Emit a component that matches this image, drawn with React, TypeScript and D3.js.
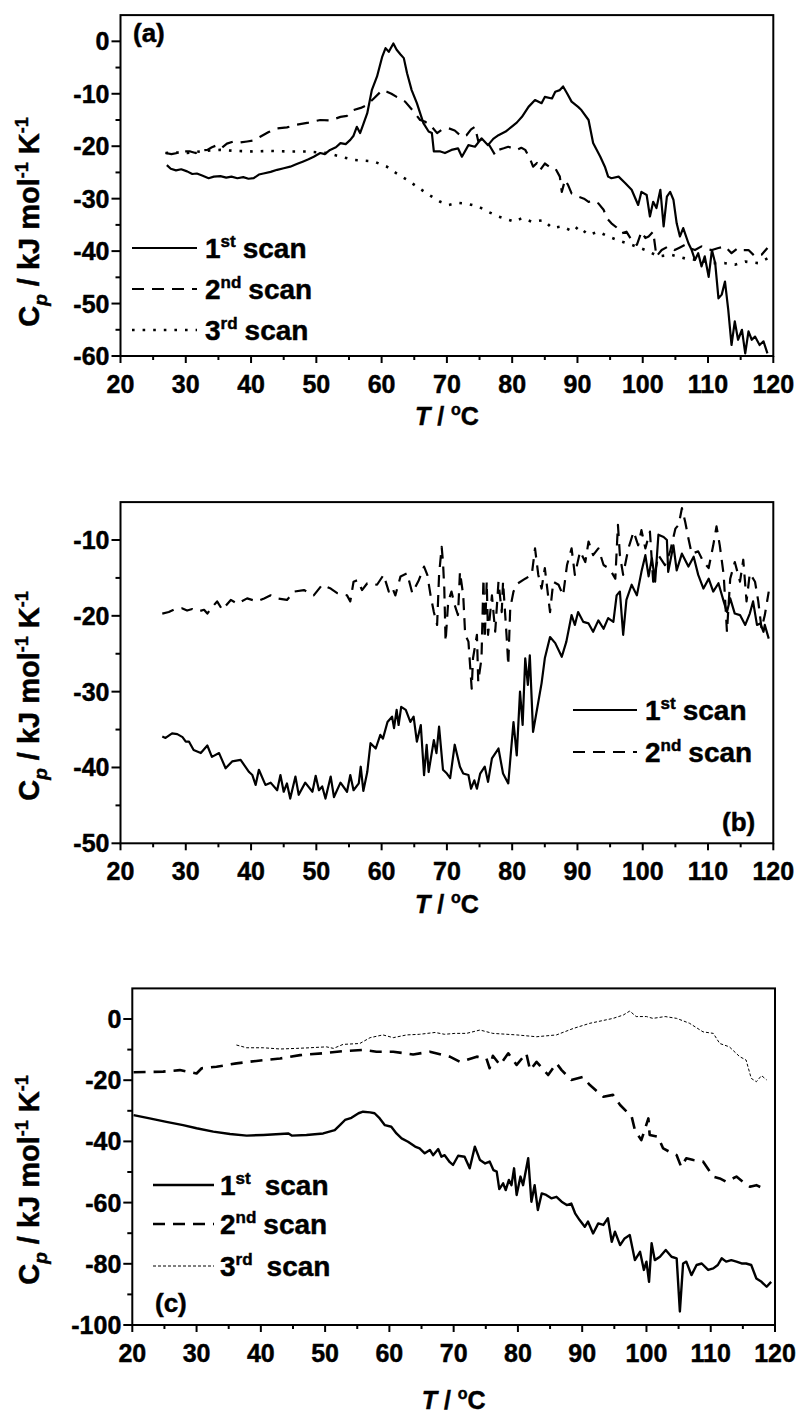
import React from 'react';
import * as d3 from 'd3';

type Pt = [number, number];

// ---------- data ----------
const xTickValues = [20, 30, 40, 50, 60, 70, 80, 90, 100, 110, 120];
const xMinorValues = [25, 35, 45, 55, 65, 75, 85, 95, 105, 115];

const aYTicks = [-60, -50, -40, -30, -20, -10, 0];
const aYMinor = [-55, -45, -35, -25, -15, -5];
const bYTicks = [-50, -40, -30, -20, -10];
const bYMinor = [-45, -35, -25, -15];
const cYTicks = [-100, -80, -60, -40, -20, 0];
const cYMinor = [-90, -70, -50, -30, -10];

const aScan1: Pt[] = [[27.1,-23.6],[27.7,-24.3],[28.5,-24.6],[29.3,-24.4],[30.2,-24.8],[31.0,-25.3],[31.7,-25.2],[32.5,-25.6],[33.5,-26.1],[34.3,-25.8],[35.3,-25.7],[36.2,-26.0],[37.0,-25.8],[37.9,-26.1],[38.8,-25.9],[39.6,-26.2],[40.4,-26.1],[41.2,-25.4],[41.9,-25.2],[43.0,-24.9],[44.0,-24.5],[45.0,-24.2],[46.0,-23.9],[47.0,-23.4],[48.0,-22.9],[48.8,-22.5],[49.6,-22.0],[50.6,-21.3],[51.3,-21.5],[52.1,-20.7],[53.0,-20.2],[53.7,-19.4],[54.5,-19.6],[55.2,-18.8],[55.7,-18.0],[56.2,-16.3],[56.7,-17.5],[57.2,-15.8],[57.8,-13.7],[58.5,-9.3],[59.3,-6.7],[60.1,-2.9],[60.6,-1.3],[61.1,-2.0],[61.8,-0.4],[62.3,-1.6],[62.9,-2.5],[63.4,-3.2],[63.9,-6.1],[64.6,-9.3],[65.4,-11.8],[66.4,-15.6],[67.2,-17.2],[67.7,-17.5],[68.0,-21.0],[69.0,-21.0],[69.7,-21.3],[70.7,-20.7],[71.7,-20.4],[72.3,-22.0],[73.3,-19.8],[74.3,-20.1],[75.3,-18.5],[76.3,-19.8],[77.1,-18.6],[77.9,-17.9],[79.0,-17.2],[79.9,-16.3],[80.7,-15.5],[81.5,-14.4],[82.5,-12.5],[83.5,-11.2],[84.5,-11.8],[85.0,-10.6],[86.1,-10.9],[86.6,-9.6],[87.3,-9.3],[87.8,-8.6],[88.4,-9.9],[89.1,-11.5],[90.1,-12.5],[90.6,-13.1],[91.7,-15.0],[92.4,-19.4],[93.5,-22.0],[94.2,-23.9],[94.7,-25.8],[95.2,-26.1],[96.3,-25.8],[97.3,-27.0],[98.3,-28.3],[99.3,-31.2],[99.8,-28.7],[100.6,-29.3],[101.1,-33.4],[101.6,-30.6],[102.1,-31.8],[102.7,-28.3],[103.2,-35.3],[103.7,-29.6],[104.2,-28.7],[104.7,-30.2],[105.2,-34.7],[105.7,-37.2],[106.2,-35.6],[107.0,-38.5],[107.5,-39.8],[108.0,-41.7],[108.5,-40.4],[109.0,-42.9],[109.5,-41.0],[110.1,-44.9],[110.6,-39.8],[111.1,-42.3],[111.6,-49.0],[112.1,-48.3],[112.6,-45.8],[113.1,-51.2],[113.6,-57.9],[114.1,-53.4],[114.6,-56.9],[115.2,-55.0],[115.7,-59.5],[116.2,-55.3],[116.7,-56.9],[117.2,-56.3],[117.9,-57.9],[118.5,-57.2],[119.1,-59.5]];

const aScan2: Pt[] = [[26.9,-21.3],[27.8,-21.5],[28.7,-21.3],[29.7,-21.0],[30.7,-21.0],[31.5,-21.3],[32.3,-20.8],[33.3,-20.7],[34.0,-20.2],[34.8,-19.8],[35.5,-20.3],[36.3,-19.5],[37.3,-19.1],[38.3,-19.3],[39.4,-19.1],[40.4,-18.9],[41.4,-18.2],[42.7,-17.3],[44.0,-16.6],[45.5,-16.4],[47.0,-15.9],[48.8,-15.5],[50.6,-15.0],[52.1,-15.1],[53.7,-14.4],[54.7,-14.2],[55.7,-13.1],[56.8,-12.7],[57.8,-12.1],[58.8,-10.9],[60.1,-9.3],[60.8,-9.6],[61.5,-10.0],[62.3,-10.6],[63.6,-11.5],[64.9,-13.4],[65.9,-15.0],[66.6,-15.3],[67.4,-15.9],[68.5,-17.5],[69.3,-16.8],[70.3,-16.6],[71.2,-17.0],[72.3,-18.2],[73.0,-17.9],[73.7,-16.8],[74.3,-16.3],[74.8,-19.0],[75.5,-18.6],[76.3,-19.4],[77.4,-21.7],[77.9,-20.7],[78.7,-20.4],[79.4,-20.1],[80.7,-20.7],[81.4,-20.3],[82.0,-20.7],[82.7,-22.3],[83.2,-23.9],[83.8,-23.2],[84.3,-24.5],[85.0,-23.3],[85.8,-24.0],[86.6,-24.2],[87.3,-25.8],[87.6,-28.7],[88.1,-26.4],[88.6,-27.5],[89.1,-29.0],[90.1,-29.6],[91.0,-30.0],[91.7,-30.6],[92.5,-30.4],[93.2,-30.9],[94.0,-32.1],[94.5,-33.7],[95.2,-34.7],[96.0,-35.5],[96.8,-36.6],[97.5,-36.3],[98.3,-37.9],[99.1,-38.8],[99.8,-36.3],[100.4,-37.5],[100.9,-37.2],[101.6,-36.3],[102.1,-41.0],[102.9,-39.8],[103.9,-39.1],[104.9,-39.8],[105.7,-39.3],[106.5,-38.8],[107.3,-39.5],[108.0,-39.8],[109.0,-39.1],[109.8,-39.6],[110.6,-39.8],[111.6,-39.4],[112.6,-39.1],[113.6,-40.4],[114.6,-39.4],[115.4,-39.8],[116.2,-39.8],[117.2,-41.0],[118.2,-40.7],[119.1,-39.4]];

const aScan3: Pt[] = [[26.9,-21.3],[28.5,-21.2],[30.2,-21.3],[32.8,-20.9],[35.3,-20.7],[37.8,-20.9],[40.4,-21.0],[43.0,-20.9],[45.5,-21.0],[48.6,-21.0],[51.6,-21.3],[53.7,-22.0],[55.7,-22.6],[58.8,-22.9],[60.8,-23.9],[62.3,-25.2],[63.9,-26.4],[65.4,-27.7],[66.9,-29.0],[69.0,-30.6],[70.3,-31.2],[71.7,-30.8],[73.2,-31.0],[74.8,-31.5],[76.3,-32.5],[77.9,-33.4],[80.4,-34.4],[81.5,-33.7],[83.0,-34.4],[84.8,-34.1],[86.1,-35.6],[87.6,-35.3],[89.4,-36.3],[90.1,-35.3],[91.7,-36.9],[93.2,-36.3],[94.7,-37.2],[96.8,-38.2],[98.3,-38.8],[100.4,-39.8],[102.4,-41.0],[104.4,-40.7],[106.5,-41.4],[108.5,-41.7],[110.6,-42.3],[112.6,-42.3],[114.1,-42.6],[115.7,-42.0],[117.7,-42.3],[119.1,-41.4]];

const bScan1: Pt[] = [[26.4,-35.9],[26.9,-36.1],[27.9,-35.5],[28.7,-35.6],[29.5,-36.0],[30.0,-36.6],[30.5,-36.6],[31.2,-37.7],[32.3,-38.1],[33.3,-37.1],[34.0,-38.6],[35.1,-38.1],[36.1,-40.1],[37.1,-39.2],[38.4,-39.0],[39.7,-40.6],[40.2,-41.0],[40.7,-42.3],[41.2,-40.3],[42.2,-42.3],[43.0,-42.0],[44.0,-43.0],[44.5,-41.0],[45.0,-43.2],[45.5,-42.1],[46.0,-44.1],[46.8,-41.2],[47.3,-43.6],[48.3,-42.0],[49.4,-43.2],[49.9,-41.1],[50.4,-43.0],[50.9,-42.5],[51.4,-44.1],[52.2,-41.2],[52.7,-43.9],[53.7,-42.0],[54.7,-43.2],[55.2,-41.0],[55.7,-43.0],[56.5,-42.1],[56.8,-39.9],[57.2,-43.1],[57.8,-40.6],[58.3,-36.8],[59.1,-37.5],[59.8,-35.7],[60.2,-36.2],[60.9,-34.0],[61.6,-33.3],[61.9,-34.8],[62.3,-32.4],[62.6,-34.4],[63.0,-32.0],[63.7,-32.4],[64.4,-34.0],[64.9,-33.3],[65.4,-36.6],[66.0,-34.4],[66.5,-41.0],[66.9,-37.0],[67.2,-40.6],[68.0,-36.4],[68.4,-38.1],[68.8,-34.6],[69.4,-40.3],[70.0,-40.8],[70.5,-41.4],[71.2,-37.0],[72.0,-39.9],[72.5,-40.8],[73.3,-41.0],[73.7,-42.8],[74.2,-41.7],[74.6,-42.8],[75.1,-40.8],[75.8,-39.9],[76.3,-41.9],[76.9,-38.8],[77.9,-37.5],[78.6,-40.8],[79.4,-42.1],[80.2,-34.0],[80.7,-38.4],[81.2,-30.0],[81.6,-34.4],[82.0,-25.6],[82.4,-29.1],[82.7,-25.2],[83.2,-35.3],[84.5,-28.9],[85.0,-25.6],[85.8,-22.8],[86.6,-23.6],[87.6,-25.4],[88.3,-23.4],[89.1,-19.9],[89.6,-21.2],[90.1,-19.5],[90.9,-20.8],[91.7,-21.0],[92.4,-22.1],[93.2,-20.6],[94.0,-21.7],[94.7,-20.3],[95.5,-20.8],[96.0,-17.3],[96.5,-16.8],[97.0,-22.5],[97.5,-17.9],[98.3,-15.9],[99.1,-17.3],[99.8,-14.2],[100.4,-12.0],[100.9,-14.8],[101.4,-12.4],[101.9,-15.5],[102.4,-9.3],[103.2,-9.6],[103.7,-10.0],[103.9,-14.2],[104.7,-10.7],[105.2,-14.0],[106.0,-11.8],[107.0,-13.5],[107.8,-12.2],[108.5,-14.6],[109.3,-16.4],[110.1,-15.1],[110.8,-16.8],[111.6,-15.7],[112.4,-18.1],[112.9,-19.5],[113.4,-17.7],[114.1,-19.7],[114.9,-19.9],[115.7,-21.2],[116.4,-19.7],[116.9,-18.1],[117.5,-21.2],[118.0,-21.0],[118.5,-22.1],[118.7,-21.2],[119.3,-23.0]];

const bScan2: Pt[] = [[26.4,-19.7],[27.4,-19.5],[28.4,-19.1],[29.4,-19.0],[30.2,-19.3],[31.0,-19.1],[32.0,-19.4],[32.8,-19.2],[33.3,-19.7],[34.0,-18.9],[34.8,-18.1],[35.6,-19.2],[36.9,-17.9],[37.9,-18.4],[39.4,-17.7],[40.9,-18.1],[42.0,-17.7],[43.0,-17.3],[44.0,-17.7],[45.5,-17.9],[46.6,-16.8],[48.1,-16.6],[49.6,-17.3],[50.9,-15.9],[52.2,-16.4],[53.2,-17.0],[54.7,-17.3],[55.2,-18.1],[55.7,-15.5],[56.3,-15.3],[57.0,-16.6],[57.8,-15.7],[59.3,-15.9],[60.3,-14.6],[61.1,-16.8],[61.6,-16.2],[62.1,-17.3],[62.9,-14.8],[63.9,-14.4],[64.7,-17.0],[65.7,-15.3],[66.5,-13.5],[67.0,-14.6],[67.5,-17.3],[68.0,-19.5],[68.5,-21.2],[68.8,-14.6],[69.2,-10.9],[69.4,-12.9],[69.6,-16.4],[69.8,-23.4],[70.2,-18.1],[70.7,-16.8],[71.2,-18.6],[71.7,-19.9],[72.0,-14.2],[72.5,-17.3],[72.8,-22.5],[73.3,-23.4],[73.8,-29.6],[74.0,-25.6],[74.6,-22.5],[74.8,-28.7],[75.3,-25.6],[75.6,-15.1],[75.8,-23.0],[76.1,-15.5],[76.3,-22.5],[76.9,-17.3],[77.4,-22.1],[77.9,-15.5],[78.4,-19.5],[78.6,-15.5],[79.2,-23.4],[79.4,-26.5],[79.7,-19.0],[80.2,-16.8],[80.9,-15.7],[82.0,-15.1],[83.0,-14.6],[83.5,-11.1],[84.0,-14.6],[84.5,-16.4],[85.0,-13.7],[85.8,-19.5],[86.3,-15.5],[87.1,-15.9],[87.8,-17.3],[88.4,-13.3],[89.1,-11.1],[89.6,-14.6],[90.4,-11.5],[91.2,-12.9],[91.7,-10.2],[92.4,-12.0],[93.2,-11.1],[94.0,-13.3],[94.7,-13.7],[95.2,-14.2],[95.8,-15.1],[96.2,-8.0],[96.5,-12.0],[97.0,-14.6],[97.8,-11.1],[98.6,-8.9],[99.3,-10.7],[99.8,-8.7],[100.4,-11.1],[101.1,-8.9],[101.6,-15.5],[102.4,-12.0],[103.4,-13.3],[104.2,-11.5],[105.0,-8.5],[105.5,-8.0],[106.0,-5.8],[106.5,-7.6],[107.0,-9.8],[107.5,-11.8],[108.5,-11.5],[109.3,-12.9],[110.1,-13.7],[110.8,-10.7],[111.3,-8.2],[111.8,-10.7],[112.4,-14.6],[112.9,-22.1],[113.4,-15.1],[114.1,-12.9],[114.9,-15.5],[115.4,-12.6],[115.9,-18.1],[116.4,-14.4],[117.2,-15.5],[117.7,-18.1],[118.2,-21.7],[118.7,-19.9],[119.3,-16.8]];

const cScan1: Pt[] = [[20.2,-31.4],[22.7,-32.5],[25.3,-33.6],[27.9,-34.7],[30.0,-35.7],[32.6,-36.8],[35.2,-37.6],[37.8,-38.1],[40.4,-37.9],[43.0,-37.6],[44.3,-37.4],[44.8,-38.1],[47.1,-37.9],[49.7,-37.4],[51.5,-36.3],[52.3,-34.7],[53.1,-33.0],[54.1,-32.3],[55.2,-30.8],[55.9,-30.3],[57.0,-30.5],[57.7,-30.8],[58.5,-32.5],[59.3,-34.7],[60.3,-35.2],[61.1,-37.4],[61.9,-39.0],[62.9,-40.1],[64.0,-41.7],[64.7,-42.3],[65.5,-43.9],[66.3,-42.8],[66.8,-44.5],[67.6,-42.5],[68.1,-45.0],[68.6,-44.5],[69.4,-46.8],[69.9,-47.7],[70.7,-44.7],[71.7,-45.0],[72.5,-48.8],[73.3,-41.7],[74.1,-46.1],[74.9,-47.2],[75.6,-46.6],[76.2,-49.4],[76.7,-49.9],[77.1,-55.6],[77.7,-53.7],[78.1,-55.9],[78.6,-52.6],[79.0,-54.3],[79.4,-48.8],[79.8,-57.5],[80.4,-51.5],[80.8,-54.3],[81.6,-45.5],[82.1,-59.7],[82.6,-54.3],[83.1,-62.4],[83.7,-57.0],[84.4,-57.5],[85.2,-58.6],[86.0,-58.1],[86.8,-59.7],[87.6,-60.8],[88.3,-60.3],[88.9,-63.5],[89.6,-65.7],[90.4,-67.9],[90.9,-66.2],[91.7,-70.1],[92.5,-66.8],[93.3,-67.3],[94.0,-65.1],[94.6,-72.8],[95.1,-69.5],[95.9,-73.9],[96.6,-71.7],[97.4,-70.6],[98.2,-78.8],[99.0,-76.1],[99.6,-82.0],[100.0,-79.3],[100.4,-85.9],[100.8,-73.3],[101.3,-78.8],[102.1,-77.7],[103.0,-75.5],[103.9,-77.7],[104.7,-78.2],[105.2,-95.6],[105.7,-79.9],[106.2,-79.3],[107.0,-83.7],[107.8,-80.4],[108.6,-79.9],[109.6,-82.0],[110.4,-81.5],[111.1,-80.4],[111.7,-78.2],[112.4,-79.3],[113.2,-78.8],[114.0,-79.3],[114.8,-79.9],[115.5,-79.9],[116.3,-80.4],[117.1,-84.8],[117.9,-85.9],[118.7,-87.5],[119.4,-85.9]];

const cScan2: Pt[] = [[20.2,-17.4],[22.5,-17.3],[24.8,-17.2],[27.4,-16.7],[29.0,-17.4],[30.0,-17.8],[30.8,-16.1],[33.1,-15.6],[36.2,-14.5],[39.3,-13.7],[43.0,-12.9],[46.1,-11.8],[49.7,-11.2],[52.8,-10.5],[55.9,-10.1],[58.0,-10.7],[60.6,-10.7],[63.7,-11.6],[66.3,-10.7],[68.4,-11.8],[69.4,-12.3],[71.0,-14.0],[73.6,-12.3],[75.1,-12.9],[75.6,-16.1],[76.1,-12.0],[77.2,-15.0],[78.5,-11.2],[79.8,-15.0],[81.3,-11.2],[81.9,-16.7],[82.9,-14.0],[84.7,-18.3],[86.0,-14.5],[86.8,-16.7],[88.3,-19.9],[90.1,-18.9],[91.2,-21.6],[93.3,-25.4],[94.8,-24.8],[95.9,-28.1],[97.7,-31.9],[98.2,-36.3],[99.2,-39.6],[100.3,-32.5],[100.5,-37.9],[101.8,-38.5],[102.6,-42.3],[103.6,-43.4],[104.7,-44.5],[105.4,-48.3],[106.2,-45.5],[107.3,-46.1],[108.8,-46.6],[110.4,-51.5],[111.4,-52.1],[112.4,-53.2],[114.0,-51.5],[115.0,-53.2],[116.1,-54.8],[117.1,-54.3],[118.7,-55.9]];

const cScan3: Pt[] = [[36.2,-8.5],[37.8,-9.4],[40.4,-9.4],[43.0,-9.8],[45.6,-9.6],[47.6,-9.4],[50.2,-9.1],[51.3,-9.6],[52.8,-8.3],[55.4,-8.0],[57.0,-6.1],[59.0,-5.2],[60.6,-6.1],[62.7,-5.2],[64.7,-5.0],[67.1,-4.4],[68.6,-5.0],[70.2,-4.7],[72.0,-4.7],[74.1,-3.6],[76.1,-4.7],[79.8,-5.2],[82.9,-5.8],[86.0,-5.2],[88.6,-3.1],[91.2,-1.4],[94.8,0.2],[96.4,1.3],[97.4,2.6],[98.4,0.8],[100.0,0.8],[101.0,0.2],[102.9,0.8],[104.7,0.2],[106.7,-1.4],[108.8,-4.2],[110.4,-4.7],[111.4,-8.0],[112.9,-9.1],[114.5,-12.3],[115.5,-13.4],[116.3,-19.4],[117.1,-20.5],[117.9,-18.5],[118.7,-19.9]];

// ---------- styles / layout ----------
const FONT = '"Liberation Sans", Arial, sans-serif';
const TXT = { fontFamily: FONT, fontWeight: 'bold' as const, stroke: '#000', strokeWidth: 0.45 };

const SOLID = { w: 2.2, dash: undefined as string | undefined };
const DASHED = { w: 2.2, dash: '12,8' };
const DOTTED = { w: 2.6, dash: '2.6,8' };
const FINE = { w: 1, dash: '3,2' };

type Series = { data: Pt[]; style: { w: number; dash?: string }; num: string; sup: string; wide: boolean };

type PanelCfg = {
  left: number; right: number; top: number; bottom: number;
  yDomain: [number, number]; yTicks: number[]; yMinor: number[];
  series: Series[];
  legend: { x1: number; x2: number; tx: number; ys: number[] };
  tag: { text: string; x: number; y: number };
  yLabel: { x: number; y: number };
  xLabelY: number;
};

const panels: PanelCfg[] = [
  {
    left: 120.5, right: 773.3, top: 15.1, bottom: 356,
    yDomain: [-60, 5], yTicks: aYTicks, yMinor: aYMinor,
    series: [
      { data: aScan1, style: SOLID, num: '1', sup: 'st', wide: false },
      { data: aScan2, style: DASHED, num: '2', sup: 'nd', wide: false },
      { data: aScan3, style: DOTTED, num: '3', sup: 'rd', wide: false },
    ],
    legend: { x1: 132, x2: 197, tx: 205, ys: [248, 289, 330] },
    tag: { text: '(a)', x: 133, y: 42 },
    yLabel: { x: 39, y: 222 },
    xLabelY: 425,
  },
  {
    left: 120.5, right: 773.3, top: 502.1, bottom: 843.3,
    yDomain: [-50, -5], yTicks: bYTicks, yMinor: bYMinor,
    series: [
      { data: bScan1, style: SOLID, num: '1', sup: 'st', wide: false },
      { data: bScan2, style: DASHED, num: '2', sup: 'nd', wide: false },
    ],
    legend: { x1: 573, x2: 637, tx: 645, ys: [710, 752] },
    tag: { text: '(b)', x: 722, y: 831 },
    yLabel: { x: 39, y: 696 },
    xLabelY: 913,
  },
  {
    left: 132.3, right: 775, top: 988.4, bottom: 1325,
    yDomain: [-100, 10], yTicks: cYTicks, yMinor: cYMinor,
    series: [
      { data: cScan1, style: { w: 2.4 }, num: '1', sup: 'st', wide: true },
      { data: cScan2, style: { w: 2.6, dash: '12,8' }, num: '2', sup: 'nd', wide: false },
      { data: cScan3, style: FINE, num: '3', sup: 'rd', wide: true },
    ],
    legend: { x1: 153, x2: 214, tx: 220, ys: [1185, 1224, 1266] },
    tag: { text: '(c)', x: 155, y: 1312 },
    yLabel: { x: 39, y: 1180 },
    xLabelY: 1409,
  },
];

function Panel({ cfg }: { cfg: PanelCfg }) {
  const x = d3.scaleLinear().domain([20, 120]).range([cfg.left, cfg.right]);
  const y = d3.scaleLinear().domain(cfg.yDomain).range([cfg.bottom, cfg.top]);
  const line = d3.line<Pt>().x((d) => x(d[0])).y((d) => y(d[1]));
  const cx = (cfg.left + cfg.right) / 2;
  return (
    <g>
      {cfg.series.map((s, i) => (
        <path key={i} d={line(s.data) || ''} fill="none" stroke="#000"
          strokeWidth={s.style.w} strokeDasharray={s.style.dash} strokeLinejoin="round" />
      ))}
      <rect x={cfg.left} y={cfg.top} width={cfg.right - cfg.left} height={cfg.bottom - cfg.top}
        fill="none" stroke="#000" strokeWidth={2} />
      {xTickValues.map((t) => (
        <g key={'xt' + t}>
          <line x1={x(t)} x2={x(t)} y1={cfg.bottom} y2={cfg.bottom + 7} stroke="#000" strokeWidth={2} />
          <text x={x(t)} y={cfg.bottom + 37} textAnchor="middle" {...TXT} fontSize={25}>{t}</text>
        </g>
      ))}
      {xMinorValues.map((t) => (
        <line key={'xm' + t} x1={x(t)} x2={x(t)} y1={cfg.bottom} y2={cfg.bottom + 4} stroke="#000" strokeWidth={2} />
      ))}
      {cfg.yTicks.map((v) => (
        <g key={'yt' + v}>
          <line x1={cfg.left - 9} x2={cfg.left} y1={y(v)} y2={y(v)} stroke="#000" strokeWidth={2} />
          <text x={cfg.left - 11} y={y(v) + 9} textAnchor="end" {...TXT} fontSize={25}>{v}</text>
        </g>
      ))}
      {cfg.yMinor.map((v) => (
        <line key={'ym' + v} x1={cfg.left - 5} x2={cfg.left} y1={y(v)} y2={y(v)} stroke="#000" strokeWidth={2} />
      ))}
      {cfg.series.map((s, i) => (
        <g key={'lg' + i}>
          <line x1={cfg.legend.x1} x2={cfg.legend.x2} y1={cfg.legend.ys[i]} y2={cfg.legend.ys[i]}
            stroke="#000" strokeWidth={s.style.w} strokeDasharray={s.style.dash} />
          <text x={cfg.legend.tx} y={cfg.legend.ys[i] + 10} {...TXT} fontSize={28}>
            {s.num}
            <tspan dy={-11} fontSize={17}>{s.sup}</tspan>
            <tspan dy={11} dx={s.wide ? 14 : 7}>scan</tspan>
          </text>
        </g>
      ))}
      <text x={cfg.tag.x} y={cfg.tag.y} {...TXT} fontSize={26}>{cfg.tag.text}</text>
      <text x={cx} y={cfg.xLabelY} textAnchor="middle" {...TXT} fontSize={25}>
        <tspan fontStyle="italic">T</tspan>
        <tspan> / </tspan>
        <tspan dy={-10} fontSize={16}>o</tspan>
        <tspan dy={10}>C</tspan>
      </text>
      <text transform={`translate(${cfg.yLabel.x},${cfg.yLabel.y}) rotate(-90)`} textAnchor="middle"
        {...TXT} fontSize={29}>
        C
        <tspan dy={8} fontSize={19} fontStyle="italic">p</tspan>
        <tspan dy={-8}> / kJ mol</tspan>
        <tspan dy={-11} fontSize={18}>-1</tspan>
        <tspan dy={11}> K</tspan>
        <tspan dy={-11} fontSize={18}>-1</tspan>
      </text>
    </g>
  );
}

export default function App() {
  return (
    <svg width={799} height={1418} viewBox="0 0 799 1418"
      style={{ position: 'absolute', left: 0, top: 0, background: '#fff', display: 'block' }}>
      <rect x={0} y={0} width={799} height={1418} fill="#fff" />
      {panels.map((p, i) => <Panel key={i} cfg={p} />)}
    </svg>
  );
}
